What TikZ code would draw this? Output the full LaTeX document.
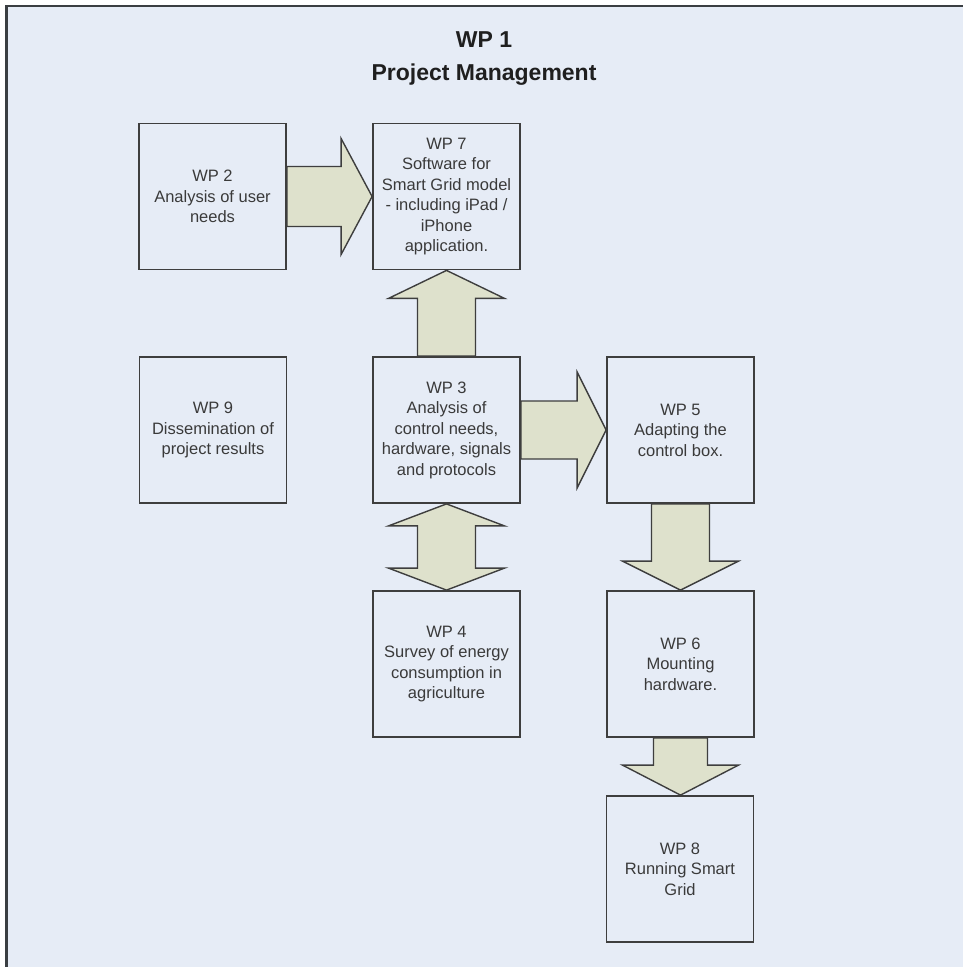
\documentclass[tikz,border=0pt]{standalone}
\usepackage{fontspec}
\setmainfont{Liberation Sans}
\usetikzlibrary{calc}

\definecolor{pagebg}{RGB}{230,236,246}
\definecolor{framecol}{RGB}{58,62,66}
\definecolor{boxline}{RGB}{62,62,62}
\definecolor{arrowfill}{RGB}{222,225,204}
\definecolor{textcol}{RGB}{58,58,58}

\begin{document}
\begin{tikzpicture}[x=1pt,y=-1pt,
  wpbox/.style={draw=boxline, line width=1.8pt, fill=pagebg,
    minimum width=147pt, minimum height=146pt, inner sep=0pt,
    align=center, text=textcol, font=\fontsize{16.5}{20.5}\selectfont},
  blk/.style={draw=boxline, line width=1.4pt, fill=arrowfill, line join=miter},
  heading/.style={font=\fontsize{23}{28}\selectfont\bfseries,
    text=black!88, anchor=base, inner sep=0pt}]

\useasboundingbox (0,0) rectangle (962,967);

% page and frame
\fill[white] (0,0) rectangle (962,967);
\fill[pagebg] (6.5,6) rectangle (980,985);
\draw[framecol, line width=2.6pt] (6.5,985) -- (6.5,6) -- (980,6);

% heading
\node[heading] (t1) at (484,47) {WP 1};
\node[heading] (t2) at (484,80) {Project Management};

% work packages
\node[wpbox] (wp2) at (212.5,196.5) {WP 2\\Analysis of user\\needs};
\node[wpbox] (wp7) at (446.5,196.5) {WP 7\\Software for\\Smart Grid model\\- including iPad /\\iPhone\\application.};
\node[wpbox] (wp9) at (213,430) {WP 9\\Dissemination of\\project results};
\node[wpbox] (wp3) at (446.5,430) {WP 3\\Analysis of\\control needs,\\hardware, signals\\and protocols};
\node[wpbox] (wp5) at (680.5,430) {WP 5\\Adapting the\\control box.};
\node[wpbox] (wp4) at (446.5,664) {WP 4\\Survey of energy\\consumption in\\agriculture};
\node[wpbox] (wp6) at (680.5,664) {WP 6\\Mounting\\hardware.};
\node[wpbox] (wp8) at (680,869) {WP 8\\Running Smart\\Grid};

% block arrows (canvas coordinates, y pointing up)
% WP 2 -> WP 7
\draw[blk] let \p1=(wp2.east), \p2=(wp7.west) in
  (\x1,\y1+30pt) -- (\x2-31pt,\y1+30pt) -- (\x2-31pt,\y1+58pt) -- (\x2,\y1)
  -- (\x2-31pt,\y1-58pt) -- (\x2-31pt,\y1-30pt) -- (\x1,\y1-30pt) -- cycle;
% WP 3 -> WP 5
\draw[blk] let \p1=(wp3.east), \p2=(wp5.west) in
  (\x1,\y1+29pt) -- (\x2-29pt,\y1+29pt) -- (\x2-29pt,\y1+58pt) -- (\x2,\y1)
  -- (\x2-29pt,\y1-58pt) -- (\x2-29pt,\y1-29pt) -- (\x1,\y1-29pt) -- cycle;
% WP 3 -> WP 7
\draw[blk] let \p1=(wp3.north), \p2=(wp7.south) in
  (\x1-29pt,\y1) -- (\x1-29pt,\y2-28pt) -- (\x1-58pt,\y2-28pt) -- (\x1,\y2)
  -- (\x1+58pt,\y2-28pt) -- (\x1+29pt,\y2-28pt) -- (\x1+29pt,\y1) -- cycle;
% WP 3 <-> WP 4
\draw[blk] let \p1=(wp3.south), \p2=(wp4.north) in
  (\x1,\y1) -- (\x1+58pt,\y1-22pt) -- (\x1+29pt,\y1-22pt) -- (\x1+29pt,\y2+22pt)
  -- (\x1+58pt,\y2+22pt) -- (\x1,\y2) -- (\x1-58pt,\y2+22pt) -- (\x1-29pt,\y2+22pt)
  -- (\x1-29pt,\y1-22pt) -- (\x1-58pt,\y1-22pt) -- cycle;
% WP 5 -> WP 6
\draw[blk] let \p1=(wp5.south), \p2=(wp6.north) in
  (\x1-29pt,\y1) -- (\x1-29pt,\y2+29pt) -- (\x1-58pt,\y2+29pt) -- (\x1,\y2)
  -- (\x1+58pt,\y2+29pt) -- (\x1+29pt,\y2+29pt) -- (\x1+29pt,\y1) -- cycle;
% WP 6 -> WP 8
\draw[blk] let \p1=(wp6.south), \p2=(wp8.north) in
  (\x1-27pt,\y1) -- (\x1-27pt,\y2+30pt) -- (\x1-58pt,\y2+30pt) -- (\x1,\y2)
  -- (\x1+58pt,\y2+30pt) -- (\x1+27pt,\y2+30pt) -- (\x1+27pt,\y1) -- cycle;

\end{tikzpicture}
\end{document}
